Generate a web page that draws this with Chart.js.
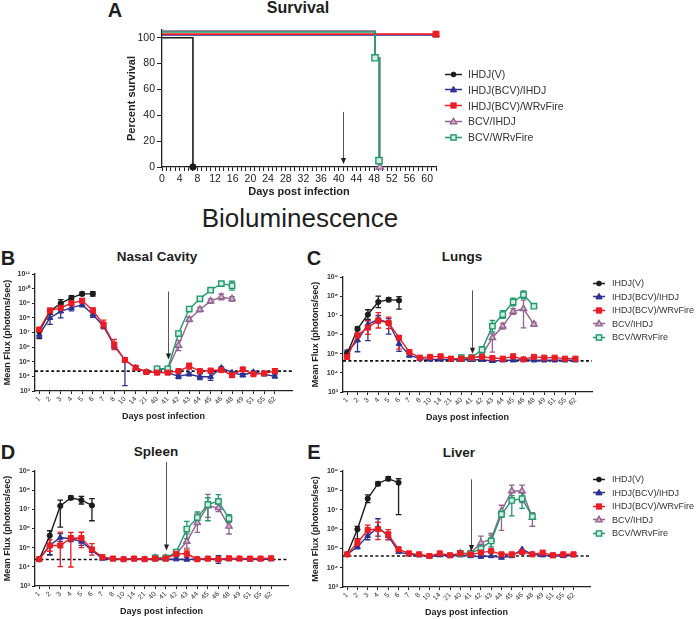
<!DOCTYPE html>
<html><head><meta charset="utf-8">
<script src="https://cdn.jsdelivr.net/npm/chart.js@4/dist/chart.umd.min.js"></script>
<style>
body{margin:0;background:#fff;}
#wrap{position:relative;width:696px;height:619px;overflow:hidden;background:#fff;font-family:"Liberation Sans",Arial,Helvetica,sans-serif;color:#1e1e1e;}
.t{position:absolute;white-space:nowrap;line-height:1;transform:translate(-50%,-50%);}
.b{font-weight:bold;}
canvas{position:absolute;}
.leg{position:absolute;color:#333;}
.leg .row{display:flex;align-items:center;white-space:nowrap;}
.leg svg{flex:none;}
</style></head>
<body><div id="wrap">
<div class="t b" style="left:115px;top:10px;font-size:20px;">A</div>
<div class="t b" style="left:298px;top:8px;font-size:16px;">Survival</div>
<div class="t" style="left:300px;top:218px;font-size:26px;">Bioluminescence</div>
<div class="t b" style="left:8px;top:257.5px;font-size:20px;">B</div>
<div class="t b" style="left:157px;top:257px;font-size:13.5px;">Nasal Cavity</div>
<div class="t b" style="left:314px;top:257.5px;font-size:20px;">C</div>
<div class="t b" style="left:462px;top:256.5px;font-size:13.5px;">Lungs</div>
<div class="t b" style="left:8px;top:451.5px;font-size:20px;">D</div>
<div class="t b" style="left:156px;top:452px;font-size:13.5px;">Spleen</div>
<div class="t b" style="left:314px;top:451.5px;font-size:20px;">E</div>
<div class="t b" style="left:459px;top:452.5px;font-size:13.5px;">Liver</div>
<canvas id="cA" width="346" height="182" style="left:100px;top:18px;"></canvas>
<canvas id="cB" width="300" height="161" style="left:0px;top:262px;"></canvas>
<canvas id="cC" width="292" height="159" style="left:308px;top:265px;"></canvas>
<canvas id="cD" width="296" height="159" style="left:0px;top:459px;"></canvas>
<canvas id="cE" width="290" height="160" style="left:308px;top:459px;"></canvas>
</div>
<script>
// ---------------- DATA ----------------
const seriesNames = ['IHDJ(V)','IHDJ(BCV)/IHDJ','IHDJ(BCV)/WRvFire','BCV/IHDJ','BCV/WRvFire'];
const days = [1,2,3,4,5,6,7,8,10,14,21,40,41,42,43,44,45,46,48,49,51,55,62];
const fluxTicksNasal = [1e3,1e4,1e5,1e6,1e7,1e8,1e9,1e10,1e11];
const fluxTicks = [1e3,1e4,1e5,1e6,1e7,1e8,1e9];
const survTicksY = [0,10,20,30,40,50,60,70,80,90,100];

// A: survival (days, percent)
const survT_V  = [0,7,7];            const survP_V  = [100,100,0];
const survT_BI = [0,62];             const survP_BI = [102.2,102.2];
const survT_BW = [0,62];             const survP_BW = [102.8,102.8];
const survT_CI = [0,48.2,48.2,49.3,49.3]; const survP_CI = [105.2,105.2,84.5,84.5,0];
const survT_CW = [0,48.2,48.2,49.1,49.1]; const survP_CW = [104.4,104.4,84.5,84.5,4.9];
const survArrow = [41, 42.6, 2.3];

// B: nasal cavity (photons/sec)
const nasalV  = [1.2e7,2.8e8,1.0e9,2.3e9,4.4e9,4.4e9];
const nasalBI = [7.2e6,1.0e8,2.8e8,4.8e8,8.0e8,1.7e8,2.7e7,1.2e6,1.3e5,3.9e4,2.0e4,1.8e4,1.8e4,1.0e4,1.4e4,9.5e3,9.5e3,3.9e4,1.8e4,1.2e4,2.0e4,1.4e4,1.0e4];
const nasalBW = [1.6e7,3.2e8,4.8e8,1.0e9,1.5e9,3.3e8,3.5e7,1.5e6,1.3e5,3.9e4,2.0e4,1.8e4,1.8e4,2.3e4,5.0e4,2.3e4,2.5e4,2.7e4,1.2e4,3.0e4,1.4e4,1.6e4,2.3e4];
const nasalCI = [null,null,null,null,null,null,null,null,null,null,null,3.0e4,3.0e4,1.3e6,7.8e7,3.7e8,1.4e9,2.7e9,2.0e9];
const nasalCW = [null,null,null,null,null,null,null,null,null,null,null,3.3e4,3.3e4,8.5e6,4.0e8,2.0e9,7.8e9,2.2e10,1.6e10];
const nasalLOD = 2.3e4;
const nasalArrow = [41, 6.3e9, 1.4e5];
// error bars, in decades (± or [down, up])
const errNasalV  = [[0.5,0.1],0.2,0.25,0.15,0.12,0.15];
const errNasalBI = [0.2,0.45,0.45,0.2,0.15,0.2,0.15,0.15,[1.75,0.1],0.1,0.05,0.05,0.05,0.15,0.1,0.2,0.25,0.05,0.05,0.1,0.05,0.1,0.1];
const errNasalBW = [0.1,0.1,0.1,0.1,0.1,0.15,0.3,0.35,0.15,0.1,0.05,0.05,0.05,0.1,0.2,0.1,0.1,0.1,0.15,0.1,0.1,0.1,0.15];
const errNasalCI = [null,null,null,null,null,null,null,null,null,null,null,0.05,0.05,0.35,0.15,0.15,0.15,0.2,0.15];
const errNasalCW = [null,null,null,null,null,null,null,null,null,null,null,0.05,0.05,0.15,0.15,0.15,0.15,0.1,0.3];

// C: lungs
const lungV  = [1.0e5,2.0e6,1.1e7,5.0e7,6.6e7,6.0e7];
const lungBI = [1.2e5,5.0e5,3.4e6,6.2e6,4.2e6,3.3e5,8.3e4,5.5e4,5.0e4,5.0e4,5.0e4,4.8e4,4.8e4,4.8e4,4.2e4,4.5e4,4.5e4,4.8e4,4.5e4,4.5e4,4.5e4,4.5e4,4.5e4];
const lungBW = [6.8e4,9.1e5,2.3e6,5.5e6,4.0e6,6.8e5,1.2e5,6.2e4,6.8e4,7.2e4,5.5e4,5.5e4,6.2e4,6.8e4,5.9e4,5.5e4,7.2e4,5.0e4,6.8e4,6.2e4,6.2e4,5.5e4,5.5e4];
const lungCI = [null,null,null,null,null,null,null,null,null,null,null,5.5e4,5.5e4,8.3e4,6.8e5,2.7e6,1.6e7,2.2e7,3.4e6];
const lungCW = [null,null,null,null,null,null,null,null,null,null,null,6.2e4,6.2e4,1.6e5,2.7e6,1.1e7,5.0e7,1.2e8,3.0e7];
const lungLOD = 4.2e4;
const lungArrow = [41, 2.0e8, 1.0e5];
const errLungV  = [0.1,0.1,0.25,0.3,0.1,[0.45,0.2]];
const errLungBI = [0.1,[0.6,0.3],[0.85,0.2],0.2,[0.6,0.2],0.4,0.1,0.05];
const errLungBW = [0.1,0.3,0.35,0.4,0.3,[0.6,0.1],0.1,0.05,0.05,0.1,0.1,0.05,0.05,0.05,0.05,0.05,0.1,0.05,0.05,0.05,0.05,0.05,0.05];
const errLungCI = [null,null,null,null,null,null,null,null,null,null,null,null,null,0.1,[0.75,0.2],0.15,0.15,[1.0,0.45],0.1];
const errLungCW = [null,null,null,null,null,null,null,null,null,null,null,null,null,0.15,0.3,0.2,0.2,0.2,0.1];

// D: spleen
const splV  = [2.5e4,4.3e5,1.5e7,4.0e7,3.0e7,1.6e7];
const splBI = [2.5e4,1.3e5,3.4e5,2.9e5,2.1e5,7.2e4,2.7e4,2.5e4,2.5e4,2.5e4,2.5e4,2.5e4,2.5e4,2.5e4,2.4e4,2.5e4,2.5e4,2.4e4,2.5e4,2.6e4,2.4e4,2.5e4,2.5e4];
const splBW = [2.5e4,1.3e5,1.3e5,3.1e5,3.2e5,8.1e4,3.2e4,2.7e4,2.5e4,2.7e4,2.5e4,2.7e4,2.7e4,4.8e4,4.8e4,2.5e4,2.7e4,2.5e4,2.8e4,2.7e4,2.7e4,2.7e4,2.8e4];
const splCI = [null,null,null,null,null,null,null,null,null,null,null,2.9e4,2.9e4,4.8e4,2.1e5,2.0e6,1.5e7,1.2e7,1.3e6];
const splCW = [null,null,null,null,null,null,null,null,null,null,null,2.9e4,2.9e4,5.9e4,9.3e5,3.7e6,1.8e7,2.6e7,3.3e6];
const splLOD = 2.4e4;
const splArrow = [41, 3.0e9, 7.2e4];
const errSplV  = [0.1,[1.0,0.25],[1.1,0.3],0.1,0.2,[0.8,0.35]];
const errSplBI = [null,[0.5,0.1],0.2,0.15,0.2,0.1,null,null,null,null,null,null,null,null,null,null,null,0.2];
const errSplBW = [null,[0.3,0.3],[1.1,0.7],[1.5,0.3],[0.5,0.3],0.3,null,null,null,0.1,null,null,null,0.15,0.2];
const errSplCI = [null,null,null,null,null,null,null,null,null,null,null,null,null,0.2,[0.35,0.4],[0.5,0.5],[0.6,0.6],0.2,[0.4,0.3]];
const errSplCW = [null,null,null,null,null,null,null,null,null,null,null,null,null,0.1,[0.5,0.4],0.3,[0.85,0.35],0.35,0.2];

// E: liver
const livV  = [4.9e4,9.6e5,3.7e7,2.2e8,4.0e8,2.5e8];
const livBI = [4.9e4,1.2e5,4.4e5,1.2e6,4.4e5,6.5e4,4.9e4,4.4e4,3.7e4,4.4e4,4.0e4,4.4e4,4.0e4,3.7e4,4.0e4,3.3e4,4.0e4,8.9e4,4.9e4,4.4e4,4.0e4,4.0e4,4.4e4];
const livBW = [4.9e4,1.9e5,8.9e5,1.0e6,5.2e5,8.9e4,5.5e4,4.9e4,4.0e4,5.5e4,4.4e4,5.5e4,4.9e4,6.0e4,7.2e4,4.9e4,4.9e4,6.5e4,4.9e4,6.0e4,4.4e4,4.9e4,4.9e4];
const livCI = [null,null,null,null,null,null,null,null,null,null,null,5.5e4,5.5e4,1.9e5,3.0e5,8.5e6,9.3e7,9.3e7,3.9e6];
const livCW = [null,null,null,null,null,null,null,null,null,null,null,5.5e4,5.5e4,9.6e4,2.4e5,5.8e6,3.0e7,3.7e7,4.4e6];
const livLOD = 4.0e4;
const livArrow = [41, 3.7e8, 7.2e4];
const errLivV  = [0.05,[0.5,0.15],0.2,0.1,0.1,[1.65,0.2]];
const errLivBI = [null,0.1,0.2,0.45,0.2];
const errLivBW = [null,0.2,0.25,[0.55,0.35],0.25,0.1];
const errLivCI = [null,null,null,null,null,null,null,null,null,null,null,null,null,0.35,[0.7,0.3],[1.0,0.3],[0.4,0.3],[0.6,0.3],[0.45,0.25]];
const errLivCW = [null,null,null,null,null,null,null,null,null,null,null,null,null,0.2,0.3,0.15,[0.8,0.25],[0.5,0.3],0.15];

// ---------------- STYLE ----------------
const FONT = "'Liberation Sans', Arial, Helvetica, sans-serif";
Chart.defaults.font.family = FONT;
Chart.defaults.color = '#222';
const styles = [
  {c:'#1c1c1c', fill:'#1c1c1c', ps:'circle',   r:2.6, bw:1},
  {c:'#2d3192', fill:'#2d3192', ps:'triangle', r:3.3, bw:1},
  {c:'#ec1c24', fill:'#ec1c24', ps:'rect',     r:3.6, bw:1},
  {c:'#93628f', fill:'#d2b7d0', ps:'triangle', r:3.6, bw:1.4},
  {c:'#1f9a6a', fill:'#d4eee1', ps:'rect',     r:3.8, bw:1.4}
];
const topOrder = [2,4,0,1,3]; // red drawn on top
const SUPD = {'0':'\u2070','1':'\u00b9','2':'\u00b2','3':'\u00b3','4':'\u2074','5':'\u2075','6':'\u2076','7':'\u2077','8':'\u2078','9':'\u2079'};
const sup = n => String(n).split('').map(ch => SUPD[ch]).join('');
const XMIN = -0.4, XMAX = 23.6;

const errBars = {
  id:'errBars',
  beforeDatasetsDraw(chart){
    const xs = chart.scales.x, ys = chart.scales.y, ctx = chart.ctx;
    chart.data.datasets.forEach(ds => {
      if (!ds.errs) return;
      ctx.save(); ctx.strokeStyle = ds.borderColor; ctx.lineWidth = 1.3;
      ds.data.forEach((pt, i) => {
        const e = ds.errs[i];
        if (e == null || pt.y == null) return;
        const dn = Array.isArray(e) ? e[0] : e, up = Array.isArray(e) ? e[1] : e;
        const x = xs.getPixelForValue(pt.x);
        const y1 = ys.getPixelForValue(pt.y / Math.pow(10, dn));
        const y2 = ys.getPixelForValue(pt.y * Math.pow(10, up));
        ctx.beginPath();
        ctx.moveTo(x, y1); ctx.lineTo(x, y2);
        ctx.moveTo(x - 2.8, y1); ctx.lineTo(x + 2.8, y1);
        ctx.moveTo(x - 2.8, y2); ctx.lineTo(x + 2.8, y2);
        ctx.stroke();
      });
      ctx.restore();
    });
  }
};
const arrowMark = {
  id:'arrowMark',
  afterDatasetsDraw(chart, args, opts){
    if (!opts || opts.x == null) return;
    const ctx = chart.ctx;
    const x = Math.round(chart.scales.x.getPixelForValue(opts.x)) + 0.5;
    const y1 = chart.scales.y.getPixelForValue(opts.from);
    const y2 = chart.scales.y.getPixelForValue(opts.to);
    ctx.save();
    ctx.strokeStyle = '#555'; ctx.fillStyle = '#222'; ctx.lineWidth = 1;
    ctx.beginPath(); ctx.moveTo(x, y1); ctx.lineTo(x, y2 - 4); ctx.stroke();
    ctx.beginPath(); ctx.moveTo(x - 2.6, y2 - 6); ctx.lineTo(x + 2.6, y2 - 6); ctx.lineTo(x, y2); ctx.closePath(); ctx.fill();
    ctx.restore();
  }
};
Chart.register(errBars, arrowMark);

function axisCommon(){
  return {
    grid:{drawOnChartArea:false, drawTicks:true, color:'#222', tickColor:'#222'},
    border:{color:'#222', width:1.3}
  };
}

function bio(id, yTicks, series, errs, lod, arrow, padR){
  const datasets = series.map((vals, k) => ({
    label: seriesNames[k],
    data: vals.map((v, i) => ({x:i, y:v})),
    errs: errs[k],
    borderColor: styles[k].c, backgroundColor: styles[k].fill,
    pointBackgroundColor: styles[k].fill, pointBorderColor: styles[k].c,
    pointStyle: styles[k].ps, pointRadius: styles[k].r, pointBorderWidth: styles[k].bw,
    borderWidth: 1.4, order: topOrder.indexOf(k) + 1, clip:false, tension:0
  }));
  datasets.push({label:'LOD', data:[{x:XMIN, y:lod},{x:XMAX, y:lod}], borderColor:'#111', borderDash:[3,2.4], borderWidth:1.6, pointRadius:0, order:9, clip:false});
  const ax = axisCommon(), ay = axisCommon();
  new Chart(document.getElementById(id), {
    type:'line',
    data:{datasets},
    options:{
      animation:false, responsive:false, devicePixelRatio:1,
      layout:{padding:{left:0, top:12, right:padR, bottom:0}},
      plugins:{legend:{display:false}, tooltip:{enabled:false},
        arrowMark:{x: days.indexOf(arrow[0]), from: arrow[1], to: arrow[2]}},
      scales:{
        x:{type:'linear', min:XMIN, max:XMAX,
          afterBuildTicks: s => { s.ticks = days.map((d, i) => ({value:i})); },
          afterFit: s => { s.height = 32; },
          ticks:{autoSkip:false, minRotation:45, maxRotation:45, padding:1, font:{size:7}, color:'#333',
            callback: v => String(days[v])},
          grid:Object.assign(ax.grid, {tickLength:3}), border:ax.border,
          title:{display:true, text:'Days post infection', font:{size:9, weight:'bold'}, color:'#222', padding:{top:0, bottom:1}}
        },
        y:{type:'logarithmic', min:yTicks[0], max:yTicks[yTicks.length-1],
          afterBuildTicks: s => { s.ticks = yTicks.map(v => ({value:v})); },
          afterFit: s => { s.width = 35; },
          ticks:{padding:2, font:{size:7, weight:'bold'}, color:'#333',
            callback: v => '10' + sup(Math.round(Math.log10(v)))},
          grid:Object.assign(ay.grid, {tickLength:3}), border:ay.border,
          title:{display:true, text:'Mean Flux (photons/sec)', font:{size:9, weight:'bold'}, color:'#222', padding:{top:2, bottom:0}}
        }
      }
    }
  });
}

bio('cB', fluxTicksNasal, [nasalV, nasalBI, nasalBW, nasalCI, nasalCW], [errNasalV, errNasalBI, errNasalBW, errNasalCI, errNasalCW], nasalLOD, nasalArrow, 8);
bio('cC', fluxTicks, [lungV, lungBI, lungBW, lungCI, lungCW], [errLungV, errLungBI, errLungBW, errLungCI, errLungCW], lungLOD, lungArrow, 8);
bio('cD', fluxTicks, [splV, splBI, splBW, splCI, splCW], [errSplV, errSplBI, errSplBW, errSplCI, errSplCW], splLOD, splArrow, 8);
bio('cE', fluxTicks, [livV, livBI, livBW, livCI, livCW], [errLivV, errLivBI, errLivBW, errLivCI, errLivCW], livLOD, livArrow, 8);

// survival
(function(){
  const T = [survT_V, survT_BI, survT_BW, survT_CI, survT_CW];
  const P = [survP_V, survP_BI, survP_BW, survP_CI, survP_CW];
  const marks = [[2],[1],[1],[4],[2,4]];
  const drawOrder = [3,5,2,4,1];
  const datasets = T.map((t, k) => ({
    label: seriesNames[k],
    data: t.map((x, i) => ({x, y:P[k][i]})),
    borderColor: styles[k].c, pointBackgroundColor: styles[k].fill, pointBorderColor: styles[k].c,
    pointStyle: styles[k].ps, pointBorderWidth: styles[k].bw,
    pointRadius: t.map((x, i) => marks[k].includes(i) ? styles[k].r + 0.6 : 0),
    borderWidth: 1.6, order: drawOrder[k], clip:false, tension:0
  }));
  const ax = axisCommon(), ay = axisCommon();
  new Chart(document.getElementById('cA'), {
    type:'line', data:{datasets},
    options:{
      animation:false, responsive:false, devicePixelRatio:1,
      layout:{padding:{left:24, top:12, right:10, bottom:0}},
      plugins:{legend:{display:false}, tooltip:{enabled:false},
        arrowMark:{x: survArrow[0], from: survArrow[1], to: survArrow[2]}},
      scales:{
        x:{type:'linear', min:0, max:62,
          afterBuildTicks: s => { const a = []; for (let d = 0; d <= 62; d++) a.push({value:d}); s.ticks = a; },
          afterFit: s => { s.height = 33; },
          ticks:{autoSkip:false, maxRotation:0, minRotation:0, padding:2, font:{size:10.5}, color:'#222',
            callback: v => (v % 4 === 0 ? String(v) : '')},
          grid:Object.assign(ax.grid, {tickLength:4}), border:ax.border,
          title:{display:true, text:'Days post infection', font:{size:11, weight:'bold'}, color:'#222', padding:{top:0, bottom:1}}
        },
        y:{type:'linear', min:0, max:106,
          afterBuildTicks: s => { s.ticks = survTicksY.map(v => ({value:v})); },
          afterFit: s => { s.width = 38; },
          ticks:{padding:2, font:{size:10.5}, color:'#222'},
          grid:Object.assign(ay.grid, {tickLength:5}), border:ay.border,
          title:{display:true, text:'Percent survival', font:{size:11, weight:'bold'}, color:'#222', padding:{top:1, bottom:0}}
        }
      }
    }
  });
})();

// legends
function markerSvg(k, w, h){
  const s = styles[k], cx = w / 2, cy = h / 2;
  let m = '';
  if (s.ps === 'circle') m = `<circle cx="${cx}" cy="${cy}" r="2.4" fill="${s.fill}" stroke="${s.c}"/>`;
  else if (s.ps === 'triangle') m = `<polygon points="${cx},${cy-3.2} ${cx+3.2},${cy+2.4} ${cx-3.2},${cy+2.4}" fill="${s.fill}" stroke="${s.c}" stroke-width="${s.bw}"/>`;
  else m = `<rect x="${cx-2.6}" y="${cy-2.6}" width="5.2" height="5.2" fill="${s.fill}" stroke="${s.c}" stroke-width="${s.bw}"/>`;
  return `<svg width="${w}" height="${h}"><line x1="0" y1="${cy}" x2="${w}" y2="${cy}" stroke="${s.c}" stroke-width="1.5"/>${m}</svg>`;
}
function legend(left, firstCenter, rowH, lineW, gap, fs){
  const d = document.createElement('div');
  d.className = 'leg';
  d.style.left = left + 'px'; d.style.top = (firstCenter - rowH / 2) + 'px'; d.style.fontSize = fs + 'px';
  seriesNames.forEach((n, k) => {
    const r = document.createElement('div');
    r.className = 'row'; r.style.height = rowH + 'px';
    r.innerHTML = markerSvg(k, lineW, 9) + `<span style="margin-left:${gap}px">${n}</span>`;
    d.appendChild(r);
  });
  document.getElementById('wrap').appendChild(d);
}
legend(445, 74.3, 15.7, 17, 6, 10.5);
legend(593, 283, 13.5, 12, 7, 9);
legend(593, 479, 13.5, 12, 7, 9);
</script>
</body></html>
